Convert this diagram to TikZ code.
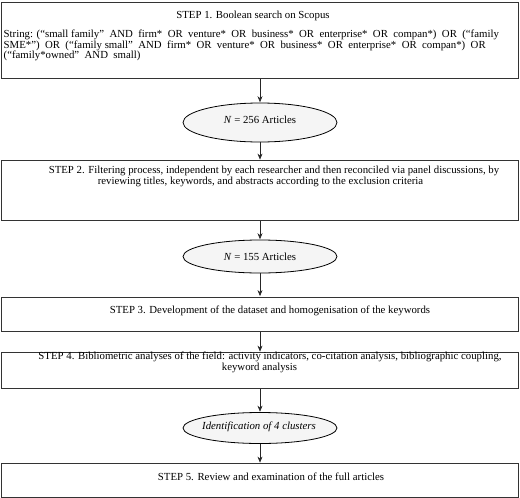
\documentclass[tikz,border=0pt]{standalone}
\usepackage{fontspec}
\setmainfont{Liberation Serif}
\usetikzlibrary{arrows.meta,shapes.geometric}
\begin{document}
\begin{tikzpicture}[x=1pt,y=1pt,
  stepbox/.style={draw=black!80, line width=1.3pt, minimum width=517pt, inner sep=0pt, anchor=north},
  countell/.style={ellipse, draw=black, line width=0.8pt, fill=black!4, inner sep=0pt, minimum width=154pt},
  flow/.style={-{Stealth[length=6pt,width=5pt]}, line width=0.6pt, draw=black!85, shorten >=0.4pt},
  txt/.style={font=\fontsize{10.8}{11}\selectfont, inner sep=0pt, anchor=base},
  ltxt/.style={font=\fontsize{10.8}{11}\selectfont, inner sep=0pt, anchor=base west}
]
\useasboundingbox (0,0) rectangle (520,-498);
% boxes
\node[stepbox, minimum height=76.5pt] (b1) at (260,-1.5) {};
\node[stepbox, minimum height=60pt] (b2) at (260,-160) {};
\node[stepbox, minimum height=34pt] (b3) at (260,-296.5) {};
\node[stepbox, minimum height=36pt] (b4) at (260,-352) {};
\node[stepbox, minimum height=34pt] (b5) at (260,-463) {};
% ellipses
\node[countell, minimum height=39pt] (e1) at (260,-122.5) {};
\node[countell, minimum height=33pt] (e2) at (260,-256.5) {};
\node[countell, minimum height=31pt] (e3) at (260,-428) {};
% texts
\node[txt] (t1) at (253,-18.5) {STEP 1. Boolean search on Scopus};
\node[ltxt] (t1a) at (3.5,-37.5) {String: (“small family”\ \ AND\ \ firm*\ \ OR\ \ venture*\ \ OR\ \ business*\ \ OR\ \ enterprise*\ \ OR\ \ compan*)\ \ OR\ \ (“family};
\node[ltxt] (t1b) at (3.5,-48) {SME*”)\ \ OR\ \ (“family small”\ \ AND\ \ firm*\ \ OR\ \ venture*\ \ OR\ \ business*\ \ OR\ \ enterprise*\ \ OR\ \ compan*)\ \ OR};
\node[ltxt] (t1c) at (3.5,-58.5) {(“family*owned”\ \ AND\ \ small)};
\node[txt] (n1) at (260,-123.5) {\textit{N} = 256 Articles};
\node[txt] (t2a) at (274,-173.5) {STEP 2. Filtering process, independent by each researcher and then reconciled via panel discussions, by};
\node[txt] (t2b) at (260.5,-184) {reviewing titles, keywords, and abstracts according to the exclusion criteria};
\node[txt] (n2) at (260,-260.5) {\textit{N} = 155 Articles};
\node[txt] (t3) at (270,-313.5) {STEP 3. Development of the dataset and homogenisation of the keywords};
\node[txt] (t4a) at (270,-359.5) {STEP 4. Bibliometric analyses of the field: activity indicators, co-citation analysis, bibliographic coupling,};
\node[txt] (t4b) at (259.5,-370) {keyword analysis};
\node[txt] (n3) at (259,-429.5) {\textit{Identification of 4 clusters}};
\node[txt] (t5) at (271,-480.5) {STEP 5. Review and examination of the full articles};
% connectors
\draw[flow] (b1.south) -- (e1.north);
\draw[flow] (e1.south) -- (b2.north);
\draw[flow] (b2.south) -- (e2.north);
\draw[flow] (e2.south) -- (b3.north);
\draw[flow] (b3.south) -- (b4.north);
\draw[flow] (b4.south) -- (e3.north);
\draw[flow] (e3.south) -- (b5.north);
\end{tikzpicture}
\end{document}
